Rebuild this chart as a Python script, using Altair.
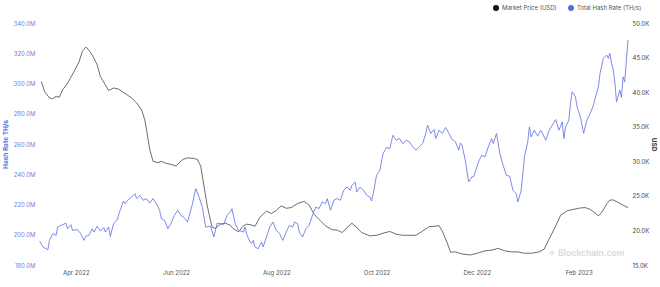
import altair as alt
import pandas as pd

series_names = ["Market Price (USD)", "Total Hash Rate (TH/s)"]
series_colors = ["#474747", "#5b6ee1"]

price_dates = ["2022-03-11","2022-03-13","2022-03-16","2022-03-18","2022-03-20","2022-03-22","2022-03-24","2022-03-27","2022-03-31","2022-04-03",
"2022-04-05","2022-04-07","2022-04-08","2022-04-11","2022-04-14","2022-04-16","2022-04-19","2022-04-21","2022-04-24","2022-04-27",
"2022-04-29","2022-05-02","2022-05-05","2022-05-08","2022-05-11","2022-05-13","2022-05-14","2022-05-16","2022-05-18","2022-05-21",
"2022-05-23","2022-05-26","2022-05-29","2022-06-01","2022-06-03","2022-06-05","2022-06-08","2022-06-12","2022-06-14","2022-06-16",
"2022-06-18","2022-06-20","2022-06-22","2022-06-23","2022-06-25","2022-06-28","2022-07-01","2022-07-04","2022-07-06","2022-07-09",
"2022-07-12","2022-07-14","2022-07-16","2022-07-19","2022-07-22","2022-07-26","2022-07-29","2022-08-01","2022-08-04","2022-08-07",
"2022-08-10","2022-08-14","2022-08-18","2022-08-21","2022-08-24","2022-08-27","2022-08-31","2022-09-04","2022-09-07","2022-09-10",
"2022-09-13","2022-09-16","2022-09-19","2022-09-22","2022-09-27","2022-10-01","2022-10-05","2022-10-09","2022-10-13","2022-10-17",
"2022-10-25","2022-10-29","2022-11-02","2022-11-05","2022-11-08","2022-11-10","2022-11-13","2022-11-15","2022-11-18","2022-11-22",
"2022-11-27","2022-12-02","2022-12-06","2022-12-10","2022-12-14","2022-12-18","2022-12-22","2022-12-26","2022-12-30","2023-01-03",
"2023-01-08","2023-01-11","2023-01-14","2023-01-18","2023-01-21","2023-01-25","2023-01-29","2023-02-02","2023-02-05","2023-02-08",
"2023-02-11","2023-02-13","2023-02-15","2023-02-18","2023-02-20","2023-02-22","2023-02-25","2023-02-28","2023-03-03"]

price_k = [41.55,40.1,39.15,39.05,39.4,39.25,40.35,41.3,43.0,44.4,
45.9,46.5,46.35,45.4,43.95,42.25,41.05,40.25,40.6,40.45,
40.1,39.65,39.15,38.45,37.45,36.0,34.6,31.7,30.0,29.8,
30.0,29.7,29.55,29.3,29.8,30.25,30.5,30.4,30.25,29.3,
26.4,23.55,21.4,20.45,20.3,20.9,21.05,20.75,20.2,19.8,
20.65,20.9,20.85,20.6,21.9,22.8,22.45,22.9,23.55,23.2,
23.3,23.9,24.2,23.65,22.35,21.6,20.65,20.1,20.05,19.7,
20.4,21.05,20.4,19.7,19.2,19.3,19.6,19.85,19.45,19.3,
19.3,19.9,20.55,20.6,20.7,19.9,18.2,16.85,16.9,16.6,
16.45,16.75,17.05,17.15,17.4,17.05,16.9,16.9,16.7,16.7,
16.9,17.3,18.75,20.65,22.2,22.85,23.05,23.25,23.3,23.05,
22.5,22.1,22.6,23.8,24.4,24.4,24.05,23.65,23.3]

hash_dates = ["2022-03-10","2022-03-12","2022-03-15","2022-03-16","2022-03-18","2022-03-20","2022-03-21","2022-03-23","2022-03-26","2022-03-27",
"2022-03-29","2022-03-30","2022-04-02","2022-04-04","2022-04-06","2022-04-07","2022-04-09","2022-04-11","2022-04-12","2022-04-14",
"2022-04-16","2022-04-18","2022-04-19","2022-04-21","2022-04-22","2022-04-24","2022-04-26","2022-04-28","2022-04-30","2022-05-01",
"2022-05-03","2022-05-05","2022-05-07","2022-05-08","2022-05-10","2022-05-12","2022-05-14","2022-05-16","2022-05-18","2022-05-20",
"2022-05-22","2022-05-23","2022-05-25","2022-05-27","2022-05-29","2022-05-31","2022-06-02","2022-06-04","2022-06-06","2022-06-08",
"2022-06-11","2022-06-13","2022-06-15","2022-06-17","2022-06-19","2022-06-22","2022-06-24","2022-06-26","2022-06-28","2022-06-30",
"2022-07-02","2022-07-04","2022-07-05","2022-07-07","2022-07-09","2022-07-12","2022-07-13","2022-07-14","2022-07-16","2022-07-17",
"2022-07-18","2022-07-19","2022-07-21","2022-07-23","2022-07-24","2022-07-26","2022-07-28","2022-07-30","2022-08-01","2022-08-03",
"2022-08-05","2022-08-07","2022-08-09","2022-08-11","2022-08-12","2022-08-14","2022-08-15","2022-08-17","2022-08-19","2022-08-21",
"2022-08-23","2022-08-25","2022-08-27","2022-08-29","2022-08-31","2022-09-01","2022-09-03","2022-09-05","2022-09-07","2022-09-09",
"2022-09-11","2022-09-13","2022-09-15","2022-09-16","2022-09-18","2022-09-19","2022-09-21","2022-09-23","2022-09-25","2022-09-27",
"2022-09-28","2022-09-29","2022-10-01","2022-10-03","2022-10-05","2022-10-07","2022-10-09","2022-10-11","2022-10-13","2022-10-15",
"2022-10-17","2022-10-19","2022-10-21","2022-10-23","2022-10-25","2022-10-27","2022-10-29","2022-10-31","2022-11-01","2022-11-03",
"2022-11-05","2022-11-06","2022-11-08","2022-11-10","2022-11-12","2022-11-14","2022-11-16","2022-11-18","2022-11-20","2022-11-21",
"2022-11-22","2022-11-24","2022-11-26","2022-11-28","2022-11-29","2022-12-02","2022-12-04","2022-12-06","2022-12-08","2022-12-10",
"2022-12-11","2022-12-13","2022-12-15","2022-12-17","2022-12-19","2022-12-21","2022-12-23","2022-12-25","2022-12-26","2022-12-28",
"2022-12-30","2023-01-01","2023-01-02","2023-01-03","2023-01-05","2023-01-07","2023-01-09","2023-01-12","2023-01-14","2023-01-16",
"2023-01-18","2023-01-20","2023-01-22","2023-01-23","2023-01-24","2023-01-26","2023-01-27","2023-01-28","2023-01-30","2023-01-31",
"2023-02-02","2023-02-04","2023-02-06","2023-02-08","2023-02-10","2023-02-11","2023-02-13","2023-02-14","2023-02-16","2023-02-18",
"2023-02-19","2023-02-20","2023-02-21","2023-02-22","2023-02-23","2023-02-24","2023-02-26","2023-02-27","2023-02-28","2023-03-01",
"2023-03-03"]

hash_m = [195.8,191.9,190.1,196.3,200.7,199.6,205.1,206.2,207.7,204.0,
206.7,202.9,203.4,200.7,196.3,198.9,199.6,204.0,201.8,205.6,
202.5,204.7,201.8,205.1,198.9,207.4,209.5,216.2,222.3,220.6,
223.2,225.0,227.2,223.9,226.1,222.8,223.9,221.0,223.9,220.6,
216.2,210.7,209.5,204.0,207.7,212.8,216.2,212.8,211.3,208.4,
220.6,230.5,225.0,218.3,205.1,205.6,198.5,207.7,207.3,206.9,
212.8,215.0,217.3,207.3,202.9,201.8,205.1,200.3,195.2,194.1,
196.3,191.9,190.8,195.2,191.9,198.5,205.1,208.4,202.9,200.7,
196.3,201.8,206.2,205.1,208.4,207.3,201.8,198.5,204.0,206.2,
212.8,218.3,217.3,221.7,220.6,223.9,216.2,222.8,223.9,222.8,
229.4,231.6,229.4,232.7,234.9,228.3,231.6,229.4,226.1,225.0,
222.3,227.2,239.3,242.6,253.7,257.7,257.0,265.8,262.5,263.6,
260.3,262.5,261.4,258.1,255.9,258.1,260.3,267.0,272.5,267.0,
269.6,263.6,269.1,267.0,270.9,267.0,263.0,261.4,255.9,260.7,
259.2,249.3,234.9,238.2,238.2,248.1,252.6,251.5,258.1,263.6,
260.3,267.0,253.7,246.0,239.3,238.7,229.4,227.2,221.7,229.4,
251.5,261.4,271.3,264.7,269.1,265.2,269.1,262.5,269.1,272.5,
276.2,269.1,274.6,263.6,271.3,275.8,286.8,294.5,291.2,284.6,
277.9,267.2,275.8,280.2,285.7,290.1,297.8,306.7,316.6,318.8,
316.6,319.9,313.3,308.9,301.1,287.9,295.6,290.8,304.4,301.1,
328.7]

hash_ticks = [180, 200, 220, 240, 260, 280, 300, 320, 340]
price_ticks = [15, 20, 25, 30, 35, 40, 45, 50]
month_ticks = [(2022, 4), (2022, 6), (2022, 8), (2022, 10), (2022, 12), (2023, 2)]

FONT = "Inter"
BLUE = series_colors[1]

price_df = pd.DataFrame({"date": price_dates, "value": price_k})
hash_df = pd.DataFrame({"date": hash_dates, "value": hash_m})

x_scale = alt.Scale(type="utc", domain=[alt.DateTime(year=2022, month=3, date=9, utc=True),
                                        alt.DateTime(year=2023, month=3, date=3, utc=True)])
x_axis = alt.Axis(values=[alt.DateTime(year=y, month=m, date=1, utc=True) for y, m in month_ticks],
                  format="%b %Y", title=None, domain=False, ticks=False, grid=False,
                  labelFont=FONT, labelFontSize=6, labelColor="#555555", labelPadding=4)

price_line = alt.Chart(price_df).mark_line(strokeWidth=0.8, color=series_colors[0]).encode(
    x=alt.X("date:T", scale=x_scale, axis=x_axis),
    y=alt.Y("value:Q", scale=alt.Scale(domain=[15, 50], nice=False, zero=False),
            axis=alt.Axis(orient="right", values=price_ticks,
                          labelExpr="format(datum.value, '.1f') + 'K'",
                          title="USD", titleColor="#333333", titleFont=FONT, titleFontSize=6.5,
                          titleFontWeight="bold", titlePadding=2,
                          labelFont=FONT, labelFontSize=6, labelColor="#444444", labelPadding=4,
                          domain=False, ticks=False, grid=False)),
)

hash_line = alt.Chart(hash_df).mark_line(strokeWidth=0.8, color=BLUE).encode(
    x=alt.X("date:T", scale=x_scale, axis=x_axis),
    y=alt.Y("value:Q", scale=alt.Scale(domain=[180, 340], nice=False, zero=False),
            axis=alt.Axis(orient="left", values=hash_ticks,
                          labelExpr="format(datum.value, '.1f') + 'M'",
                          title="Hash Rate TH/s", titleColor=BLUE, titleFont=FONT, titleFontSize=6.5,
                          titleFontWeight="bold", titlePadding=5,
                          labelFont=FONT, labelFontSize=6, labelColor="#6f7fd9", labelPadding=3,
                          domain=False, ticks=False, grid=False)),
)

legend_layers = []
legend_pos = [(458, 464), (533, 539)]
for name, color, (dx, tx) in zip(series_names, ["#111111", BLUE], legend_pos):
    ldf = pd.DataFrame({"label": [name]})
    legend_layers.append(alt.Chart(ldf).mark_circle(size=36, color=color, opacity=1).encode(
        x=alt.value(dx), y=alt.value(-15)))
    legend_layers.append(alt.Chart(ldf).mark_text(align="left", baseline="middle", fontSize=6,
                                                  font=FONT, color="#555555").encode(
        x=alt.value(tx), y=alt.value(-15), text="label:N"))

wm_df = pd.DataFrame({"label": ["Blockchain.com"]})
watermark = alt.Chart(wm_df).mark_text(align="left", baseline="middle", fontSize=8.5, font=FONT,
                                       fontWeight="bold", color="#dcdcdc").encode(
    x=alt.value(520), y=alt.value(230), text="label:N")
wm_icon = alt.Chart(wm_df).mark_point(shape="diamond", filled=True, size=30, color="#dcdcdc").encode(
    x=alt.value(514), y=alt.value(230))

chart = alt.layer(price_line, hash_line, watermark, wm_icon, *legend_layers).resolve_scale(
    y="independent"
).properties(
    width=590, height=242,
    autosize=alt.AutoSizeParams(type="none"),
    padding={"left": 38, "top": 23, "right": 32, "bottom": 22},
    background="white",
).configure_view(stroke=None)

chart.save("out.html", embed_options={"renderer": "svg", "actions": False})
